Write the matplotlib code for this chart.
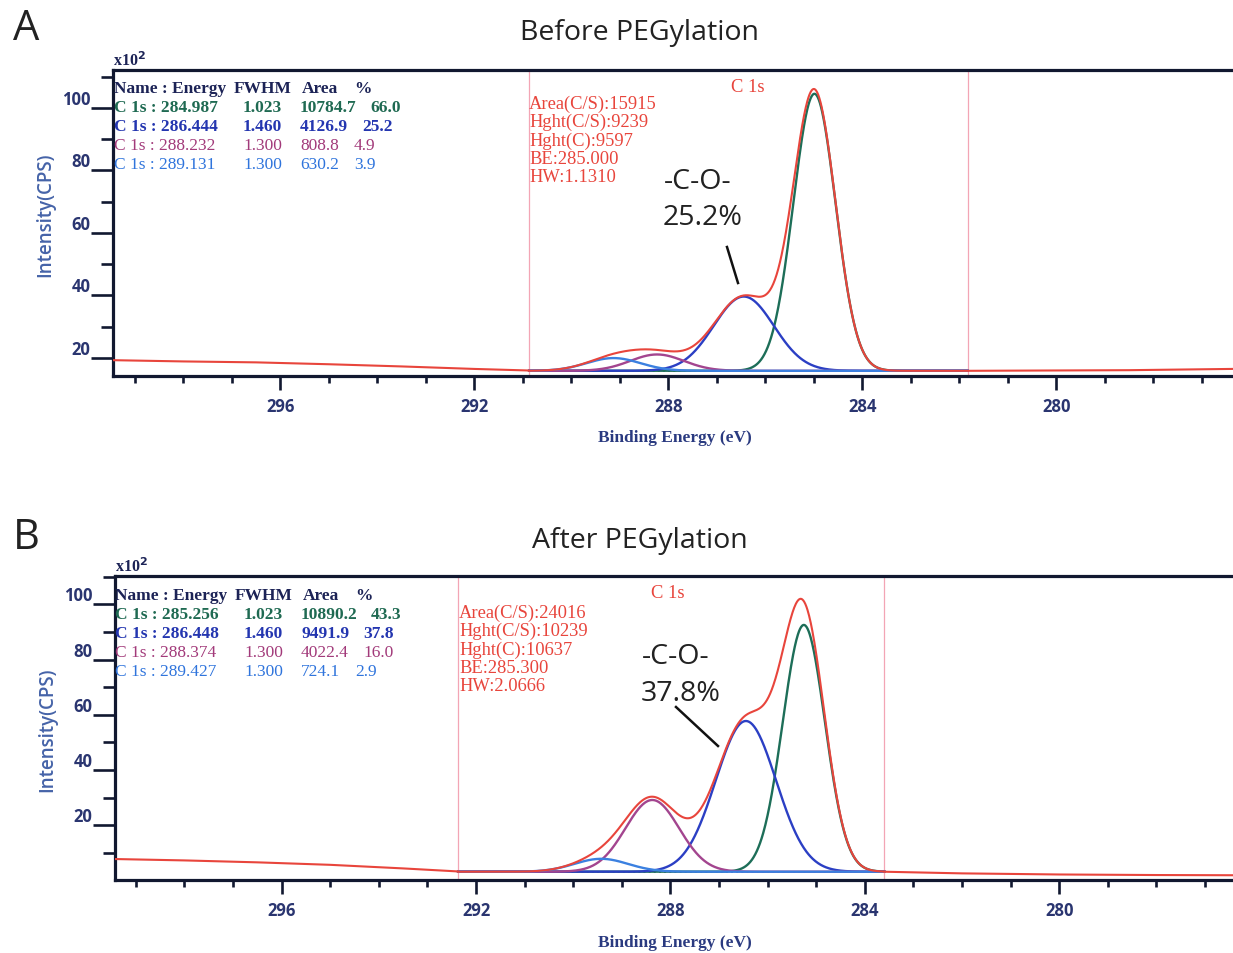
import numpy as np
import matplotlib
matplotlib.use('Agg')
import matplotlib.pyplot as plt
from matplotlib.ticker import MultipleLocator

# C 1s peak fit tables (energy eV, FWHM eV, area, %)
before_energy = [284.987, 286.444, 288.232, 289.131]
before_fwhm = [1.023, 1.460, 1.300, 1.300]
before_area = [10784.7, 4126.9, 808.8, 630.2]
before_pct = [66.0, 25.2, 4.9, 3.9]
before_info = ['Area(C/S):15915', 'Hght(C/S):9239', 'Hght(C):9597', 'BE:285.000', 'HW:1.1310']
before_window = [290.87, 281.83]
before_base = 15.9
before_bg_left_x = [299.45, 298.0, 296.5, 295.0, 293.5, 292.0, 290.87]
before_bg_left_y = [19.3, 18.9, 18.6, 18.0, 17.3, 16.5, 16.0]
before_bg_right_x = [281.83, 280.0, 278.5, 277.0, 275.8]
before_bg_right_y = [15.9, 16.0, 16.1, 16.4, 16.6]

after_energy = [285.256, 286.448, 288.374, 289.427]
after_fwhm = [1.023, 1.460, 1.300, 1.300]
after_area = [10890.2, 9491.9, 4022.4, 724.1]
after_pct = [43.3, 37.8, 16.0, 2.9]
after_info = ['Area(C/S):24016', 'Hght(C/S):10239', 'Hght(C):10637', 'BE:285.300', 'HW:2.0666']
after_window = [292.37, 283.60]
after_base = 3.1
after_bg_left_x = [299.43, 298.0, 296.5, 295.0, 293.5, 292.37]
after_bg_left_y = [7.7, 7.2, 6.5, 5.6, 4.3, 3.2]
after_bg_right_x = [283.60, 282.0, 280.0, 278.0, 275.9]
after_bg_right_y = [3.1, 2.5, 2.1, 1.9, 1.8]

energy_ticks = [296, 292, 288, 284, 280]

comp_colors = ['#1d6e58', '#2b3fc4', '#a3458f', '#3b80e0']
row_colors = ['#1f6a52', '#2436b0', '#a23a7a', '#2f74dc']
row_weights = ['bold', 'bold', 'normal', 'normal']
red = '#e8453c'
navy = '#1c2356'
area_norm = 1.19  # area / (height * FWHM) of the fitted line shape

W, H = 1233, 954
fig = plt.figure(figsize=(W / 100, H / 100), dpi=100)


def fx(px):
    return px / W


def fy(py):
    return 1 - py / H


def peak(x, x0, fwhm, area):
    # height in x10^2 CPS from the fitted area
    h = area / (fwhm * area_norm) / 100
    return h * np.exp(-4 * np.log(2) * (x - x0) ** 2 / fwhm ** 2)


def draw_panel(rect, xlim, ylim, energy, fwhm, area, pct, info, window, base,
               blx, bly, brx, bry, tab_x, tab_y, info_xy, cls_xy):
    ax = fig.add_axes(rect)
    ax.set_xlim(*xlim)
    ax.set_ylim(*ylim)

    grid = np.linspace(window[0], window[1], 800)
    env = np.full_like(grid, base)
    for e, w, a, c in zip(energy, fwhm, area, comp_colors):
        comp = peak(grid, e, w, a)
        env += comp
        ax.plot(grid, base + comp, color=c, lw=1.7, zorder=3)
    ax.plot(window, [base, base], ':', color='#5a6ab0', lw=1.4, zorder=2)
    xs = np.concatenate([blx, grid, brx])
    ys = np.concatenate([bly, env, bry])
    ax.plot(xs, ys, color=red, lw=1.5, zorder=4)

    for wx in window:
        ax.axvline(wx, color='#f3a5b5', lw=0.9, zorder=1)

    ax.set_xticks(energy_ticks)
    ax.xaxis.set_minor_locator(MultipleLocator(1))
    ax.yaxis.set_major_locator(MultipleLocator(20))
    ax.yaxis.set_minor_locator(MultipleLocator(10))
    ax.tick_params(axis='x', which='major', direction='out', length=10, width=1.9,
                   pad=5, labelsize=12, labelcolor='#2a3570', color='#111830')
    ax.tick_params(axis='x', which='minor', direction='out', length=5, width=1.9,
                   color='#111830')
    ax.tick_params(axis='y', which='major', direction='out', length=16, width=1.9,
                   pad=0, labelsize=12, labelcolor='#2a3570', color='#111830')
    ax.tick_params(axis='y', which='minor', direction='out', length=8.5, width=1.9,
                   color='#111830')
    ax.tick_params(top=False, right=False)
    for lab in ax.get_xticklabels() + ax.get_yticklabels():
        lab.set_fontfamily('Open Sans')
        lab.set_fontweight('bold')
    for lab in ax.get_yticklabels():
        lab.set_verticalalignment('bottom')
    for side in ['left', 'bottom', 'top', 'right']:
        ax.spines[side].set_linewidth(2.3)
        ax.spines[side].set_color('#111830')

    # fit table
    hk = dict(family='Liberation Serif', weight='bold', size=12.5, color=navy)
    fig.text(fx(tab_x), fy(tab_y), 'Name : Energy', **hk)
    fig.text(fx(tab_x + 120), fy(tab_y), 'FWHM', **hk)
    fig.text(fx(tab_x + 188), fy(tab_y), 'Area', **hk)
    fig.text(fx(tab_x + 240), fy(tab_y), '%', **hk)
    for i in range(len(energy)):
        yy = fy(tab_y + 19 * (i + 1))
        kw = dict(family='Liberation Serif', weight=row_weights[i], size=12.5,
                  color=row_colors[i])
        a_str = '%.1f' % area[i]
        fig.text(fx(tab_x), yy, 'C 1s : %.3f' % energy[i], **kw)
        fig.text(fx(tab_x + 129), yy, '%.3f' % fwhm[i], **kw)
        fig.text(fx(tab_x + 186), yy, a_str, **kw)
        fig.text(fx(tab_x + 186 + 8 * len(a_str) + 14), yy, '%.1f' % pct[i], **kw)

    # fit summary
    for i, s in enumerate(info):
        fig.text(fx(info_xy[0]), fy(info_xy[1] + 18.3 * i), s,
                 family='Liberation Serif', size=13.3, color=red)
    fig.text(fx(cls_xy[0]), fy(cls_xy[1]), 'C 1s', family='Liberation Serif',
             size=13.3, color=red)

    fig.text(fx(rect[0] * W), fy(H * (1 - rect[1] - rect[3]) - 5), r'x10$^{\mathbf{2}}$',
             family='Liberation Serif', weight='bold', size=11.5, color=navy,
             va='baseline')
    return ax


# Before PEGylation
axA = draw_panel([fx(113), fy(377), fx(1260 - 113), 306 / H], (299.45, 275.8), (14.24, 112.1),
                 before_energy, before_fwhm, before_area, before_pct, before_info,
                 before_window, before_base, before_bg_left_x, before_bg_left_y,
                 before_bg_right_x, before_bg_right_y, 114, 93, (529, 109), (731, 92))
# After PEGylation
axB = draw_panel([fx(115), fy(881), fx(1260 - 115), 304 / H], (299.43, 275.87), (0.1, 110.3),
                 after_energy, after_fwhm, after_area, after_pct, after_info,
                 after_window, after_base, after_bg_left_x, after_bg_left_y,
                 after_bg_right_x, after_bg_right_y, 115, 600, (459, 618), (651, 598))

for py, xl_y, t, letter, ly in [(33, 438, 'Before PEGylation', 'A', 29),
                                (541, 943, 'After PEGylation', 'B', 538)]:
    fig.text(fx(640), fy(py), t, family='Open Sans', size=20.5, color='#222222',
             ha='center', va='center')
    fig.text(fx(26), fy(ly), letter, family='Open Sans', size=30, color='#222222',
             ha='center', va='center')
    fig.text(fx(675), fy(xl_y), 'Binding Energy (eV)', family='Liberation Serif',
             weight='bold', size=12.5, color='#2a3a80', ha='center', va='center')

fig.text(fx(45), fy(215), 'Intensity(CPS)', family='Open Sans', weight='semibold',
         size=13.5, color='#4563a8', rotation=90, ha='center', va='center')
fig.text(fx(47), fy(730), 'Intensity(CPS)', family='Open Sans', weight='semibold',
         size=13.5, color='#4563a8', rotation=90, ha='center', va='center')

# -C-O- callouts
co = dict(family='Open Sans', size=20.5, color='#222222', ha='center', va='center')
fig.text(fx(698), fy(182), '-C-O-', **co)
fig.text(fx(703), fy(218), '25.2%', **co)
fig.add_artist(plt.Line2D([fx(727), fx(738)], [fy(248), fy(284)], color='#111111', lw=1.8))
fig.text(fx(676), fy(657), '-C-O-', **co)
fig.text(fx(681), fy(694), '37.8%', **co)
fig.add_artist(plt.Line2D([fx(676), fx(718)], [fy(708), fy(747)], color='#111111', lw=1.8))

fig.savefig('out.png', dpi=100)
